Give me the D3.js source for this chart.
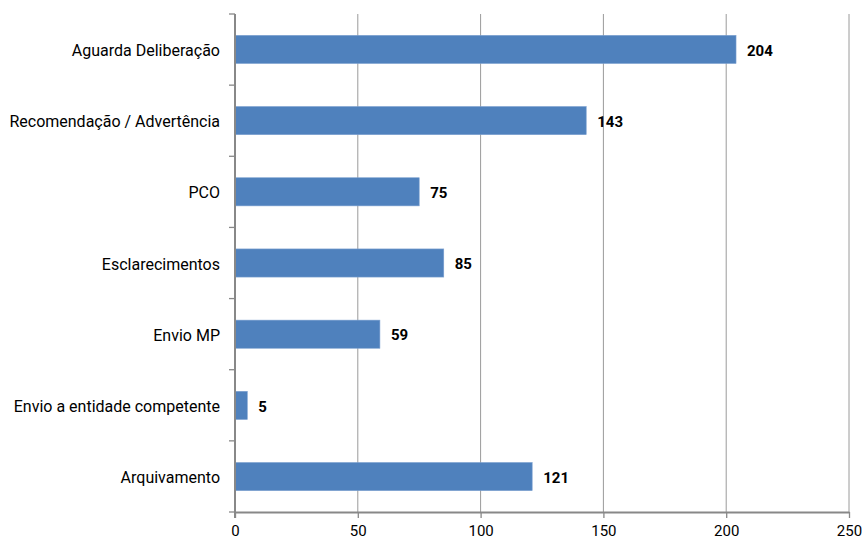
<!DOCTYPE html>
<html><head><meta charset="utf-8">
<script src="https://cdn.jsdelivr.net/npm/d3@7"></script>
<style>body{margin:0;background:#fff}svg{display:block}</style>
</head><body>
<svg id="c" width="864" height="540"></svg>
<script>
const categories = ["Aguarda Deliberação","Recomendação / Advertência","PCO","Esclarecimentos","Envio MP","Envio a entidade competente","Arquivamento"];
const values = [204,143,75,85,59,5,121];
const xTicks = [0,50,100,150,200,250];

const svg = d3.select("#c");
const L=235, R=849, T=14, B=512;
const x = d3.scaleLinear().domain([0,250]).range([L,R]);
const y = d3.scaleBand().domain(categories).range([T,B]).paddingInner(0.605).paddingOuter(0.3);
const font = "Roboto,sans-serif";

// gridlines
svg.append("g").selectAll("line").data(xTicks.slice(1)).join("line")
  .attr("x1",d=>x(d)).attr("x2",d=>x(d)).attr("y1",T).attr("y2",B)
  .attr("stroke","#9a9a9a").attr("stroke-width",1);

// bars
svg.append("g").selectAll("rect").data(values).join("rect")
  .attr("x",x(0)).attr("y",(d,i)=>y(categories[i]))
  .attr("width",d=>x(d)-x(0)).attr("height",y.bandwidth())
  .attr("fill","#4F81BD").attr("stroke","#7ba0d0").attr("stroke-width",0.6);

// value labels
svg.append("g").selectAll("text").data(values).join("text")
  .attr("x",d=>x(d)+11).attr("y",(d,i)=>y(categories[i])+y.bandwidth()/2+1)
  .attr("dy","0.35em").attr("font-family","Roboto,sans-serif").attr("font-weight","bold")
  .attr("font-size","15px").attr("fill","#000").text(d=>d);

// x axis
const xa = svg.append("g").attr("transform",`translate(0,${B})`)
  .call(d3.axisBottom(x).tickValues(xTicks).tickSize(6).tickSizeOuter(0).tickPadding(7));
xa.select(".domain").attr("stroke","#888").attr("stroke-width",2);
xa.selectAll(".tick line").attr("stroke","#888").attr("stroke-width",1.3);
xa.selectAll("text").attr("font-family",font).attr("font-size","15px").attr("fill","#000");

// y axis
const ya = svg.append("g").attr("transform",`translate(${L},1.5)`)
  .call(d3.axisLeft(y).tickSize(0).tickPadding(15));
ya.select(".domain").remove();
ya.selectAll("text").attr("font-family",font).attr("font-size","16px").attr("fill","#000");
const step = (B-T)/categories.length;
const bounds = d3.range(categories.length+1).map(i=>T+i*step);
svg.append("g").selectAll("line").data(bounds).join("line")
  .attr("x1",L-6).attr("x2",L).attr("y1",d=>d).attr("y2",d=>d)
  .attr("stroke","#888").attr("stroke-width",1.3);
svg.append("line").attr("x1",L).attr("x2",L).attr("y1",T).attr("y2",B+6)
  .attr("stroke","#888").attr("stroke-width",2);
</script>
</body></html>
